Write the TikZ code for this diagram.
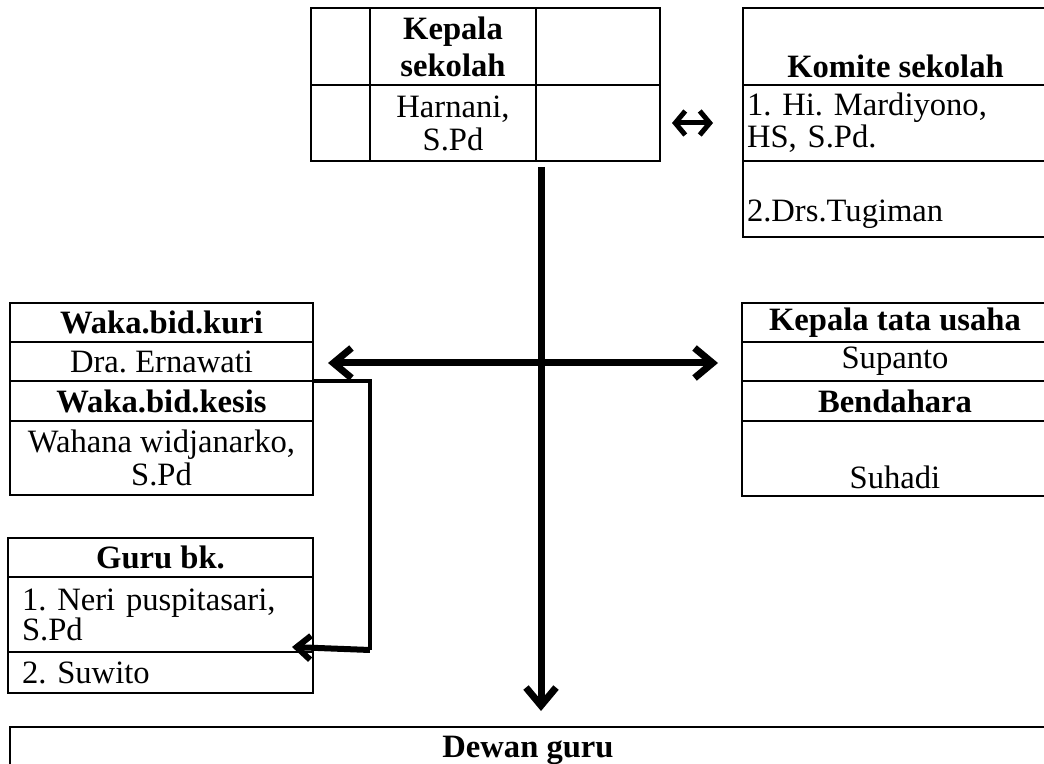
\documentclass[tikz,border=0pt]{standalone}
\usepackage{fontspec}
\setmainfont{Liberation Serif}
\usetikzlibrary{arrows.meta}
\frenchspacing

\newcommand{\cellfont}{\fontsize{16.3}{17}\selectfont}
\tikzset{
  orgcell/.style 2 args={draw, line width=1.4pt, inner sep=0pt, outer sep=0pt,
    anchor=north west, minimum width=#1*0.5pt, minimum height=#2*0.5pt, align=center},
  orgleft/.style n args={3}{orgcell={#1}{#2}, align=left, inner xsep=#3*0.5pt,
    text width=(#1-2*#3)*0.5pt},
  sunkbase/.style 2 args={text height=#1*0.5pt, text depth=#2*0.5pt},
  headtext/.style={font=\cellfont\bfseries},
  tighttext/.style={font=\fontsize{16.3}{#1}\selectfont},
  mainarrow/.style={line width=3.5pt, -{Straight Barb[length=9pt,width=15pt]}},
  sidearrow/.style={line width=3pt, -{Straight Barb[length=7pt,width=12pt]}},
  bracketline/.style={line width=1.6pt},
}

\begin{document}
\begin{tikzpicture}[x=0.5pt, y=-0.5pt, every node/.style={font=\cellfont}]
\useasboundingbox (0,0) rectangle (1044,764);

% kepala sekolah
\node[orgcell={59}{77}] (ksa1) at (311,8) {};
\node[orgcell={166}{77}, font=\fontsize{16.3}{18.5}\selectfont\bfseries] (ksa2) at (ksa1.north east) {Kepala\\sekolah};
\node[orgcell={124}{77}] (ksa3) at (ksa2.north east) {};
\node[orgcell={59}{76}] (ksb1) at (ksa1.south west) {};
\node[orgcell={166}{76}, tighttext=16.5] (ksb2) at (ksb1.north east) {Harnani,\\S.Pd};
\node[orgcell={124}{76}] (ksb3) at (ksb2.north east) {};

% komite sekolah
\node[orgcell={305}{77}, headtext, sunkbase={70}{7}] (kom1) at (743,8) {Komite sekolah};
\node[orgleft={305}{76}{4}, tighttext=13.5] (kom2) at (kom1.south west) {1. Hi. Mardiyono,\\HS, S.Pd.};
\node[orgleft={305}{76}{4}, sunkbase={61}{15}] (kom3) at (kom2.south west) {2.Drs.Tugiman};

% wakil kepala
\node[orgcell={303}{39}, headtext] (kuri) at (10,303) {Waka.bid.kuri};
\node[orgcell={303}{39}] (ern) at (kuri.south west) {Dra. Ernawati};
\node[orgcell={303}{40}, headtext] (kesis) at (ern.south west) {Waka.bid.kesis};
\node[orgcell={303}{74}, tighttext=16.5] (wahana) at (kesis.south west) {Wahana widjanarko,\\S.Pd};

% tata usaha
\node[orgcell={306}{39}, headtext] (tu1) at (742,303) {Kepala tata usaha};
\node[orgcell={306}{39}] (tu2) at (tu1.south west) {Supanto};
\node[orgcell={306}{40}, headtext] (tu3) at (tu2.south west) {Bendahara};
\node[orgcell={306}{75}, sunkbase={67}{8}] (tu4) at (tu3.south west) {Suhadi};

% guru bk
\node[orgcell={305}{39}, headtext] (gbk) at (8,538) {Guru bk.};
\node[orgleft={305}{75}{14}, tighttext=15] (neri) at (gbk.south west) {1. Neri puspitasari,\\S.Pd};
\node[orgleft={305}{41}{14}] (suwito) at (neri.south west) {2. Suwito};

% dewan guru
\node[orgcell={1036}{46}, headtext] (dewan) at (10,727) {Dewan guru};

% garis
\coordinate (top) at (541,167);
\coordinate (hub) at (541,363);
\coordinate (bend) at (370,381);
\coordinate (foot) at (370,650);
\coordinate (gbtip) at (292,647);

\draw[line width=2.5pt, {Straight Barb[length=5pt,width=12pt]}-{Straight Barb[length=5pt,width=12pt]},
  shorten <=6pt, shorten >=15pt] (ksb3.east) -- (kom2.west);
\draw[mainarrow, shorten >=8pt] (top) -- (top |- dewan.north);
\draw[mainarrow, shorten >=7.5pt] (hub) -- (ern.east |- hub);
\draw[mainarrow, shorten >=12pt] (hub) -- (tu2.west |- hub);
\draw[bracketline] (ern.south east) -- (bend) -- (foot);
\draw[sidearrow] (foot) -- (gbtip);
\end{tikzpicture}
\end{document}
